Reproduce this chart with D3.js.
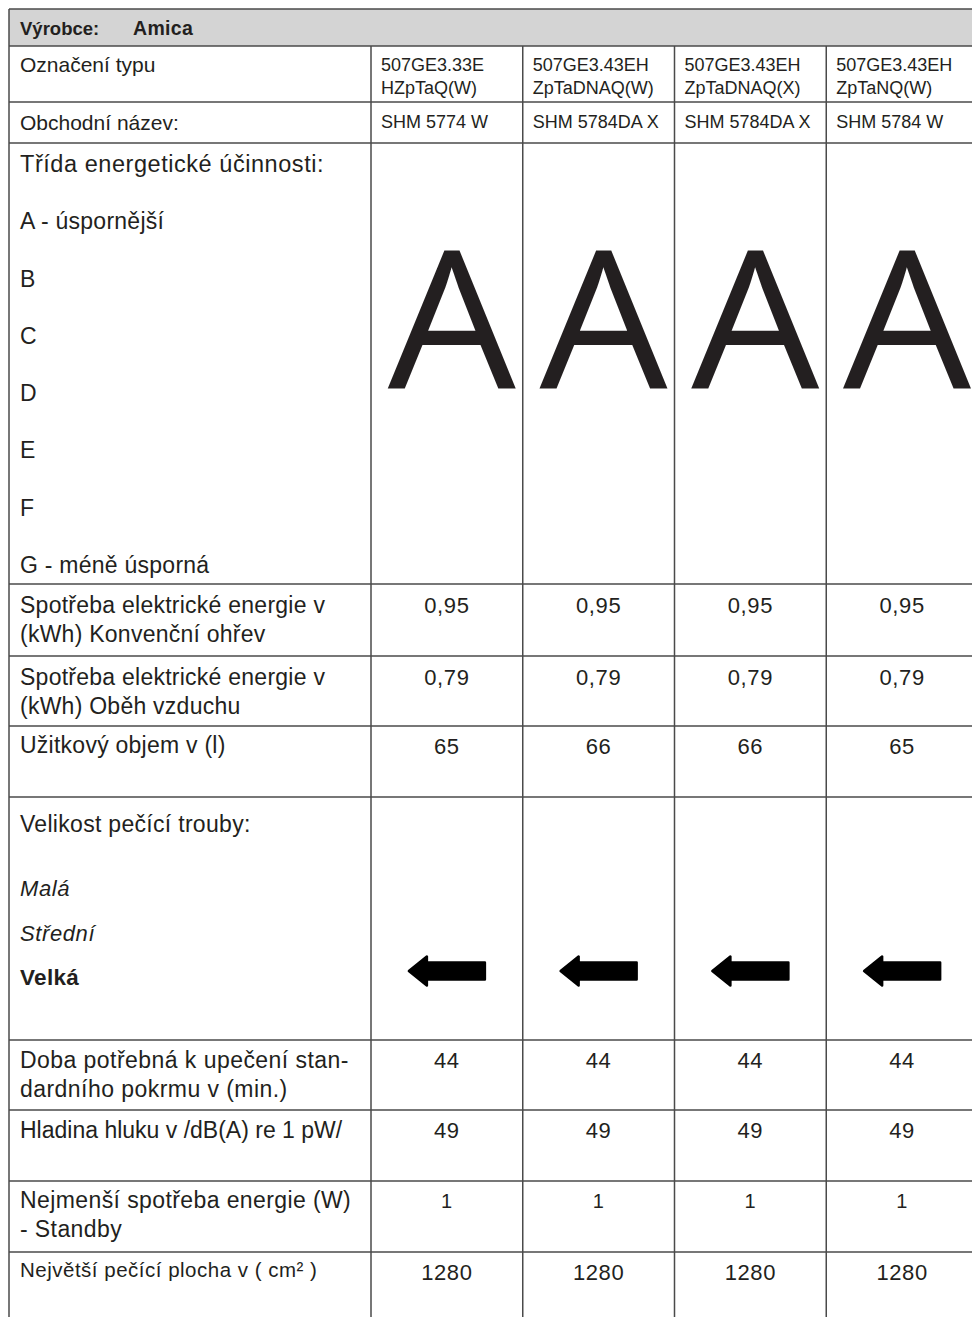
<!DOCTYPE html>
<html>
<head>
<meta charset="utf-8">
<script src="https://cdn.jsdelivr.net/npm/d3@7"></script>
<style>
  html, body { margin: 0; padding: 0; background: #fff; }
  svg { display: block; }
  text { font-family: "Liberation Sans", Arial, sans-serif; fill: #231f20; }
</style>
</head>
<body>
<div id="chart"></div>
<script>
// ---- data ----
const manufacturerLabel = 'Výrobce:';
const manufacturer = 'Amica';
const products = [0, 1, 2, 3];
const typeCodes = [
  ['507GE3.33E', 'HZpTaQ(W)'],
  ['507GE3.43EH', 'ZpTaDNAQ(W)'],
  ['507GE3.43EH', 'ZpTaDNAQ(X)'],
  ['507GE3.43EH', 'ZpTaNQ(W)']
];
const tradeNames = ['SHM 5774 W', 'SHM 5784DA X', 'SHM 5784DA X', 'SHM 5784 W'];
const energyClassTitle = 'Třída energetické účinnosti:';
const energyClassScale = ['A - úspornější', 'B', 'C', 'D', 'E', 'F', 'G - méně úsporná'];
const energyClass = ['A', 'A', 'A', 'A'];
const energyConventional = ['0,95', '0,95', '0,95', '0,95'];
const energyAirflow = ['0,79', '0,79', '0,79', '0,79'];
const usableVolume = [65, 66, 66, 65];
const ovenSizeTitle = 'Velikost pečící trouby:';
const ovenSizes = ['Malá', 'Střední', 'Velká'];
const ovenSize = ['Velká', 'Velká', 'Velká', 'Velká'];
const cookingTime = [44, 44, 44, 44];
const noiseLevel = [49, 49, 49, 49];
const standbyPower = [1, 1, 1, 1];
const bakingArea = [1280, 1280, 1280, 1280];

const rowLabels = [
  ['Označení typu'],
  ['Obchodní název:'],
  [],
  ['Spotřeba elektrické energie v', '(kWh) Konvenční ohřev'],
  ['Spotřeba elektrické energie v', '(kWh) Oběh vzduchu'],
  ['Užitkový objem v (l)'],
  [],
  ['Doba potřebná k upečení stan-', 'dardního pokrmu v (min.)'],
  ['Hladina hluku v /dB(A) re 1 pW/'],
  ['Nejmenší spotřeba energie (W)', '- Standby'],
  ['Největší pečící plocha v ( cm² )']
];

// ---- layout ----
const width = 972, height = 1317;
const x0 = 9, y0 = 9, xRight = 990;
const headerH = 37;
const rowHeights = [56, 41, 441, 72, 70, 71, 243, 70, 71, 71, 78];
const labelX = 20;
const textColor = '#231f20';
const lineColor = '#4a4a4a';

const rowTops = [y0 + headerH];
rowHeights.forEach(h => rowTops.push(rowTops[rowTops.length - 1] + h));
const yBottom = rowTops[rowTops.length - 1];

const x = d3.scaleBand().domain(products).range([371, 978]).padding(0);
const cx = i => x(i) + x.bandwidth() / 2;

const svg = d3.select('#chart').append('svg')
  .attr('width', width)
  .attr('height', height);

// header
svg.append('rect')
  .attr('x', x0).attr('y', y0)
  .attr('width', xRight - x0).attr('height', headerH)
  .attr('fill', '#d4d4d4');

svg.append('text')
  .attr('x', labelX).attr('y', y0 + 26)
  .style('font-size', '18.5px').style('font-weight', 'bold')
  .text(manufacturerLabel);
svg.append('text')
  .attr('x', 133).attr('y', y0 + 26)
  .style('font-size', '19.5px').style('font-weight', 'bold')
  .style('letter-spacing', '0.3px')
  .text(manufacturer);

// grid lines
const grid = svg.append('g')
  .attr('stroke', lineColor)
  .attr('stroke-width', 1.5);

grid.append('line').attr('x1', x0).attr('x2', xRight).attr('y1', y0).attr('y2', y0);
rowTops.forEach(y => {
  grid.append('line').attr('x1', x0).attr('x2', xRight).attr('y1', y).attr('y2', y);
});
grid.append('line').attr('x1', x0).attr('x2', x0).attr('y1', y0).attr('y2', yBottom);
products.concat([products.length]).forEach(i => {
  const xx = i < products.length ? x(i) : x(products.length - 1) + x.bandwidth();
  grid.append('line').attr('x1', xx).attr('x2', xx).attr('y1', rowTops[0]).attr('y2', yBottom);
});

// row labels (multi-line)
function labelLines(rowIndex, lines, opts = {}) {
  const size = opts.size || 23;
  const lineH = opts.lineH || 29;
  const dy = opts.dy || 27;
  const t = svg.append('text')
    .attr('x', labelX)
    .attr('y', rowTops[rowIndex] + dy)
    .style('font-size', size + 'px')
    .style('letter-spacing', (opts.ls == null ? 0.25 : opts.ls) + 'px');
  lines.forEach((line, k) => {
    t.append('tspan')
      .attr('x', labelX)
      .attr('dy', k === 0 ? 0 : lineH)
      .text(line);
  });
}

labelLines(0, rowLabels[0], { dy: 26, size: 21, ls: 0 });
labelLines(1, rowLabels[1], { dy: 28, size: 21, ls: 0 });
labelLines(3, rowLabels[3], { dy: 29 });
labelLines(4, rowLabels[4], { dy: 29 });
labelLines(5, rowLabels[5], { dy: 27 });
labelLines(7, rowLabels[7], { dy: 28, ls: 0.45 });
labelLines(8, rowLabels[8], { dy: 28, ls: 0 });
labelLines(9, rowLabels[9], { dy: 27, ls: 0.4 });
labelLines(10, rowLabels[10], { dy: 25, size: 20.5, ls: 0.5 });

// type designation cells
products.forEach(i => {
  const t = svg.append('text')
    .attr('x', x(i) + 10)
    .attr('y', rowTops[0] + 25)
    .style('font-size', '18px');
  typeCodes[i].forEach((line, k) => {
    t.append('tspan').attr('x', x(i) + 10).attr('dy', k === 0 ? 0 : 23).text(line);
  });
  svg.append('text')
    .attr('x', x(i) + 10)
    .attr('y', rowTops[1] + 26)
    .style('font-size', '18px')
    .text(tradeNames[i]);
});

// energy class block
const classY = d3.scalePoint()
  .domain([energyClassTitle].concat(energyClassScale))
  .range([rowTops[2] + 29, rowTops[2] + 430]);

classY.domain().forEach(d => {
  const isTitle = d === energyClassTitle;
  svg.append('text')
    .attr('x', labelX)
    .attr('y', classY(d))
    .style('font-size', isTitle ? '23.5px' : '23px')
    .style('letter-spacing', isTitle ? '0.55px' : '0.25px')
    .text(d);
});

products.forEach(i => {
  svg.append('text')
    .attr('transform', `translate(${cx(i) + 5},${rowTops[2] + 246}) scale(1.05,1)`)
    .attr('text-anchor', 'middle')
    .style('font-family', '"Open Sans", sans-serif')
    .style('font-size', '193px')
    .style('fill', textColor)
    .text(energyClass[i]);
});

// numeric rows
function valueRow(rowIndex, values, opts = {}) {
  products.forEach(i => {
    svg.append('text')
      .attr('x', cx(i))
      .attr('y', rowTops[rowIndex] + (opts.dy || 29))
      .attr('text-anchor', 'middle')
      .style('font-size', (opts.size || 22) + 'px')
      .style('letter-spacing', (opts.ls == null ? 0.6 : opts.ls) + 'px')
      .text(values[i]);
  });
}
valueRow(3, energyConventional, { dy: 29 });
valueRow(4, energyAirflow, { dy: 29 });
valueRow(5, usableVolume, { dy: 28 });
valueRow(7, cookingTime, { dy: 28 });
valueRow(8, noiseLevel, { dy: 28 });
valueRow(9, standbyPower, { dy: 27, size: 20 });
valueRow(10, bakingArea, { dy: 28 });

// oven size block
const sizeY = d3.scalePoint()
  .domain(ovenSizes)
  .range([rowTops[6] + 99, rowTops[6] + 188]);

svg.append('text')
  .attr('x', labelX)
  .attr('y', rowTops[6] + 35)
  .style('font-size', '23px')
  .style('letter-spacing', '0.3px')
  .text(ovenSizeTitle);

ovenSizes.forEach(d => {
  const bold = d === 'Velká';
  svg.append('text')
    .attr('x', labelX)
    .attr('y', sizeY(d))
    .style('font-size', bold ? '22.5px' : '22px')
    .style('letter-spacing', bold ? '0.3px' : '0.6px')
    .style('font-style', bold ? 'normal' : 'italic')
    .style('font-weight', bold ? 'bold' : 'normal')
    .text(d);
});

// arrows pointing to the selected size
const arrow = d3.line();
products.forEach(i => {
  const c = cx(i);
  const m = sizeY(ovenSize[i]) - 14;
  const pts = [
    [c - 38, m], [c - 20, m - 14.5], [c - 20, m - 8.5], [c + 38, m - 8.5],
    [c + 38, m + 8.5], [c - 20, m + 8.5], [c - 20, m + 14.5]
  ];
  svg.append('path')
    .attr('d', arrow(pts) + 'Z')
    .attr('fill', '#000')
    .attr('stroke', '#000')
    .attr('stroke-width', 2.5)
    .attr('stroke-linejoin', 'round');
});
</script>
</body>
</html>
